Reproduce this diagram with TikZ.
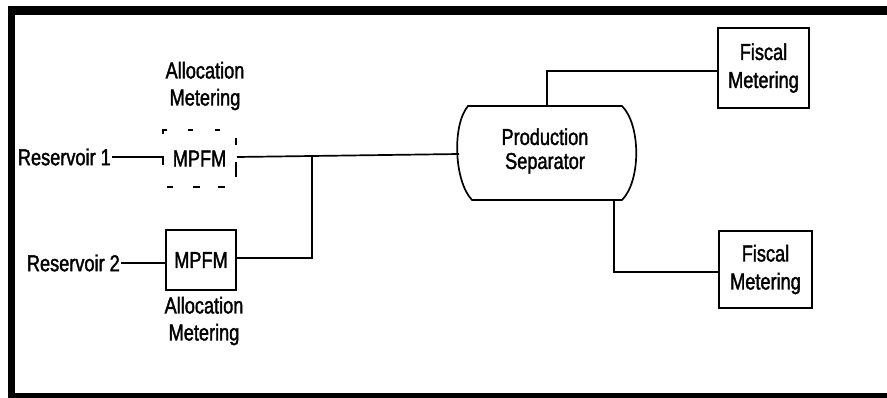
\documentclass[tikz,border=0pt]{standalone}
\usepackage{fontspec}
\setmainfont{Liberation Sans}[FakeStretch=0.79, FakeBold=1.6]
\usetikzlibrary{positioning}
\begin{document}
\begin{tikzpicture}[x=1pt,y=-1pt,
  every node/.style={font=\fontsize{23}{27}\selectfont, inner sep=0pt, align=center},
  pipe/.style={draw=black, line width=1.7pt},
  dsh/.style={draw=black, line width=1.7pt},
  boxed/.style={draw=black, line width=1.7pt, rectangle, minimum width=#1},
  lbl/.style={text=black}]
\useasboundingbox (0,0) rectangle (887,398);
\fill[white] (0,0) rectangle (887,398);
% frame
\fill[black] (8,6) rectangle (887,15);
\fill[black] (8,6) rectangle (15,398);
\fill[black] (8,393) rectangle (887,398);

% reservoir labels
\node[lbl, anchor=east] (r1) at (111,157) {Reservoir 1};
\node[lbl, anchor=east] (r2) at (120,263) {Reservoir 2};

% MPFM 1 (dashed outline)
\node[minimum width=73pt, minimum height=58pt] (m1) at (199.5,158.5) {MPFM};
\draw[dsh] (163,134) -- (163,130) -- (167,130);
\draw[dsh] (188,130) -- (193,130);
\draw[dsh] (215,130) -- (220,130);
\draw[dsh] (236,138) -- (236,145);
\draw[dsh] (236,162) -- (236,177);
\draw[dsh] (167,187) -- (173,187);
\draw[dsh] (193,187) -- (200,187);
\draw[dsh] (218,187) -- (225,187);
\node[lbl] (a1) at (205,86) {Allocation\\Metering};

% MPFM 2
\node[boxed=70pt, minimum height=60pt] (m2) at (201,260) {MPFM};
\node[lbl] (a2) at (204,321) {Allocation\\Metering};

% Separator
\node[font=\fontsize{23}{24}\selectfont, minimum width=175pt, minimum height=94pt] (sep) at (545,151) {Production\\Separator};
\draw[line width=1.7pt]
  (468,106) -- (622,106)
  .. controls (641,125) and (641,181) .. (622,200)
  -- (472,200)
  .. controls (454,181) and (452,125) .. (468,106) -- cycle;

% Fiscal boxes
\node[boxed=91pt, minimum height=80pt, font=\fontsize{23}{28}\selectfont] (f1) at (763.5,68) {Fiscal\\Metering};
\node[boxed=93pt, minimum height=77pt, font=\fontsize{23}{28}\selectfont] (f2) at (765.5,269.5) {Fiscal\\Metering};

% connectors
\coordinate (j1) at (312,156);
\coordinate (j2) at (312,258);
\coordinate (t1) at (547,71);
\coordinate (b1) at (614,272);
\coordinate (sepw) at (459,154);
\coordinate (m1w) at (163,157);
\coordinate (m1e) at (237,157);
\draw[pipe] ([xshift=1pt]r1.east) -- (m1w) -- (163,165);
\draw[pipe] ([xshift=1pt]r2.east) -- (m2.west |- r2.east);
\draw[pipe] (m1e) -- (j1) -- (sepw);
\draw[pipe] (j1) -- (j2) -- (m2.east |- j2);
\draw[pipe] (547,106) -- (t1) -- (f1.west |- t1);
\draw[pipe] (614,200) -- (b1) -- (f2.west |- b1);
\end{tikzpicture}
\end{document}
